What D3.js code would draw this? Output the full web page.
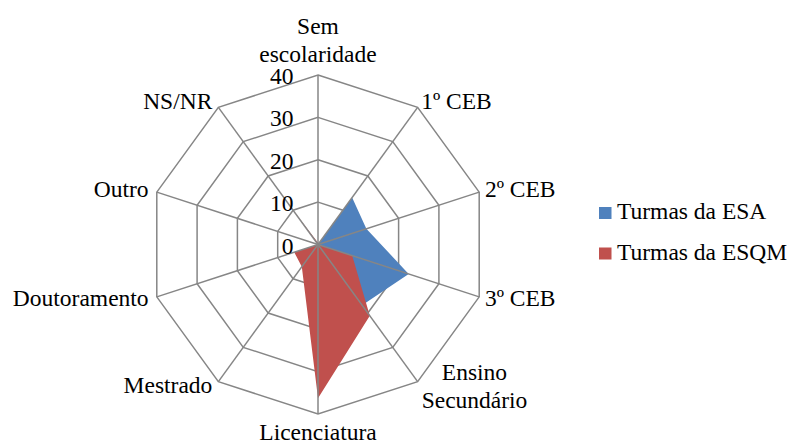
<!DOCTYPE html>
<html>
<head>
<meta charset="utf-8">
<script src="https://cdn.jsdelivr.net/npm/d3@7"></script>
<style>
  html, body { margin: 0; padding: 0; background: #fff; }
  svg { display: block; }
</style>
</head>
<body>
<svg id="chart" width="792" height="445" font-family="'Liberation Serif', 'Times New Roman', Tinos, 'DejaVu Serif', serif"></svg>
<script>
// ---- Data ----
const categories = ["Sem escolaridade", "1º CEB", "2º CEB", "3º CEB", "Ensino Secundário",
                    "Licenciatura", "Mestrado", "Doutoramento", "Outro", "NS/NR"];
const esaValues  = [0, 13.7, 12, 22.5, 17.7, 8, 0, 0, 0, 1];
const esqmValues = [0.4, 0, 0, 8.5, 20.8, 36.3, 6.5, 5.9, 0, 10];
const tickValues = [0, 10, 20, 30, 40];
const seriesNames = ["Turmas da ESA", "Turmas da ESQM"];

// ---- Layout / style ----
const cx = 318, cy = 244.5, R = 169.5;
const fontSize = 23.5;
const fontFamily = "'Liberation Serif', 'Times New Roman', Tinos, 'DejaVu Serif', serif";
const gridColor = "#868686";
const colors = ["#4F81BD", "#C0504D"];

const svg = d3.select("#chart");
const g = svg.append("g").attr("transform", `translate(${cx},${cy})`);

const r = d3.scaleLinear().domain([0, 40]).range([0, R]);
const n = categories.length;
const angle = d3.scaleLinear().domain([0, n]).range([0, 2 * Math.PI]);

const pt = (i, v) => {
  const a = angle(i);
  return [Math.sin(a) * r(v), -Math.cos(a) * r(v)];
};

const radial = d3.lineRadial()
  .angle((d, i) => angle(i))
  .radius(d => r(d))
  .curve(d3.curveLinearClosed);

// grid rings (behind)
g.append("g").selectAll("path")
  .data(tickValues.filter(t => t > 0))
  .join("path")
  .attr("d", t => radial(categories.map(() => t)))
  .attr("fill", "none")
  .attr("stroke", gridColor)
  .attr("stroke-width", 1.5);

// series areas
g.append("g").selectAll("path")
  .data([esaValues, esqmValues])
  .join("path")
  .attr("d", d => radial(d))
  .attr("fill", (d, i) => colors[i])
  .attr("stroke", "none");

// spokes (on top)
g.append("g").selectAll("line")
  .data(categories)
  .join("line")
  .attr("x1", 0).attr("y1", 0)
  .attr("x2", (d, i) => pt(i, 40)[0])
  .attr("y2", (d, i) => pt(i, 40)[1])
  .attr("stroke", gridColor)
  .attr("stroke-width", 1.5);

// tick labels
g.append("g").selectAll("text")
  .data(tickValues)
  .join("text")
  .attr("x", -24.5)
  .attr("y", t => -r(t) + 9)
  .attr("text-anchor", "end")
  .attr("font-family", fontFamily)
  .attr("font-size", fontSize)
  .text(t => t);

// category labels
const wrap = {
  "Sem escolaridade": ["Sem", "escolaridade"],
  "Ensino Secundário": ["Ensino", "Secundário"]
};
const lineH = 28;
const labG = g.append("g");
categories.forEach((c, i) => {
  const a = angle(i);
  const s = Math.sin(a), co = Math.cos(a);
  const [vx, vy] = pt(i, 40);
  const lines = wrap[c] || [c];
  const t = labG.append("text").attr("font-family", fontFamily).attr("font-size", fontSize);
  if (Math.abs(s) < 0.01) {
    t.attr("text-anchor", "middle");
    if (co > 0) {
      const baseLast = vy - 13.5;
      lines.forEach((l, k) => {
        t.append("tspan").attr("x", vx)
          .attr("y", baseLast - (lines.length - 1 - k) * lineH).text(l);
      });
    } else {
      lines.forEach((l, k) => {
        t.append("tspan").attr("x", vx).attr("y", vy + 26 + k * lineH).text(l);
      });
    }
  } else if (lines.length > 1) {
    t.attr("text-anchor", "middle");
    const tmp = labG.append("text").attr("font-family", fontFamily).attr("font-size", fontSize);
    const widths = lines.map(l => { tmp.text(l); return tmp.node().getComputedTextLength(); });
    tmp.remove();
    const maxW = d3.max(widths);
    const xc = s > 0 ? vx + 4 + maxW / 2 : vx - 4 - maxW / 2;
    lines.forEach((l, k) => {
      t.append("tspan").attr("x", xc).attr("y", vy - 1.6 + k * lineH).text(l);
    });
  } else {
    const x = vx + s * 6 - (s < 0 ? 2.5 : 0);
    t.attr("text-anchor", s > 0 ? "start" : "end")
      .attr("x", x)
      .attr("y", vy + 6.8 - 6 * co)
      .text(c);
  }
});

// legend
const leg = svg.append("g");
const legY = [207, 247.5];
seriesNames.forEach((name, i) => {
  leg.append("rect")
    .attr("x", 599).attr("y", legY[i])
    .attr("width", 12.5).attr("height", 12)
    .attr("fill", colors[i]);
  leg.append("text")
    .attr("x", 617).attr("y", legY[i] + 12.3)
    .attr("font-family", fontFamily)
    .attr("font-size", fontSize)
    .text(name);
});
</script>
</body>
</html>
